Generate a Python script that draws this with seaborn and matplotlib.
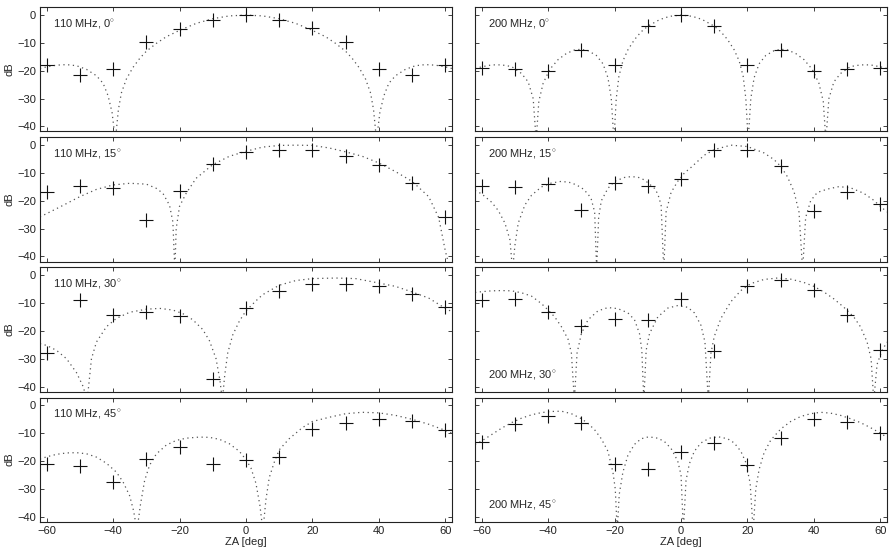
import matplotlib
matplotlib.use('Agg')
import matplotlib.pyplot as plt
import seaborn as sns

# measured points, every 10 deg of ZA
za_meas = [-60, -50, -40, -30, -20, -10, 0, 10, 20, 30, 40, 50, 60]

meas_110_0 = [-17.9, -21.7, -19.4, -9.8, -5.1, -1.8, 0, -1.8, -4.8, -9.5, -19.4, -21.7, -17.9]
meas_200_0 = [-19.0, -19.3, -20.2, -12.5, -18.0, -3.9, 0, -3.9, -18.0, -12.5, -20.2, -19.3, -19.0]
meas_110_15 = [-16.7, -14.5, -15.5, -27.0, -16.5, -6.7, -2.4, -1.6, -1.8, -3.8, -7.3, -13.5, -25.8]
meas_200_15 = [-14.5, -15.2, -14.0, -23.2, -13.7, -14.7, -12.2, -1.8, -1.8, -7.6, -23.6, -16.7, -21.0]
meas_110_30 = [-27.9, -8.8, -14.3, -13.1, -14.5, -37.3, -11.9, -5.8, -3.0, -3.0, -3.8, -6.7, -11.3]
meas_200_30 = [-8.8, -8.5, -13.1, -18.2, -15.8, -16.1, -8.5, -27.3, -3.8, -1.6, -5.2, -14.3, -27.0]
meas_110_45 = [-21.2, -21.9, -27.6, -19.4, -14.9, -21.0, -19.5, -18.5, -8.6, -6.4, -5.0, -5.6, -8.8]
meas_200_45 = [-13.1, -6.8, -4.0, -6.4, -21.0, -22.8, -16.7, -13.5, -21.3, -11.6, -4.8, -6.1, -10.0]

# model curves
model_110_0_za = [-62, -60, -57, -54, -51, -48, -45, -43, -41.5, -40.3, -39.3, -38.4, -37.5, -36,
                  -34, -32, -30, -27, -24, -20, -15, -10, -5, 0, 5, 10, 15, 20, 24, 27, 30, 32,
                  34, 36, 37.5, 38.4, 39.3, 40.3, 41.5, 43, 45, 48, 51, 54, 57, 60, 62]
model_110_0_db = [-19.2, -18.6, -18.0, -17.8, -18.2, -19.5, -21.8, -24.5, -29, -35, -45, -34, -28, -23,
                  -18.8, -15.6, -13.0, -10.2, -7.8, -5.5, -3.0, -1.3, -0.3, 0, -0.3, -1.3, -3.0, -5.5, -7.8, -10.2, -13.0, -15.6,
                  -18.8, -23, -28, -34, -45, -35, -29, -24.5, -21.8, -19.5, -18.2, -17.8, -18.0, -18.6, -19.2]

model_200_0_za = [-62, -60, -57, -54, -51, -48, -46, -44.5, -43.6, -42.8, -41.5, -39.5, -37, -34.5,
                  -32, -30, -28, -25.5, -23.5, -22, -21, -20.2, -19.5, -18.7, -17.5, -16, -14, -12,
                  -10, -7, -5, -3, 0, 3, 5, 7, 10, 12, 14, 16, 17.5, 18.7, 19.5, 20.2, 21, 22, 23.5,
                  25.5, 28, 30, 32, 34.5, 37, 39.5, 41.5, 42.8, 43.6, 44.5, 46, 48, 51, 54, 57, 60, 62]
model_200_0_db = [-19.2, -18.6, -17.9, -17.9, -18.5, -21, -24, -30, -45, -31, -24.5, -19.5, -16, -13.8,
                  -12.5, -12.3, -12.8, -14.5, -17.5, -22.5, -30, -45, -30, -22, -16.5, -12.5, -8.8, -6,
                  -4, -2, -1, -0.4, 0, -0.4, -1, -2, -4, -6, -8.8, -12.5, -16.5, -22, -30, -45, -30, -22.5, -17.5,
                  -14.5, -12.8, -12.3, -12.5, -13.8, -16, -19.5, -24.5, -31, -45, -30, -24, -21, -18.5, -17.9, -17.9, -18.6, -19.2]

model_110_15_za = [-62, -60, -55, -50, -45, -40, -35, -30, -27, -25, -23, -22, -21.4, -21, -20, -18,
                   -15, -10, -5, 0, 5, 10, 15, 20, 25, 30, 35, 40, 45, 50, 55, 58, 60, 61.5, 62]
model_110_15_db = [-25.8, -24.6, -21.6, -18.5, -15.9, -14.3, -13.7, -14.0, -15.5, -17.3, -21.6, -27.6, -45, -30, -22, -17.3,
                   -11.9, -7.0, -4.0, -2.2, -0.7, -0.1, 0, -0.1, -1.0, -2.4, -4.0, -6.4, -9.5, -13.0, -18.5, -26, -38, -45, -45]

model_200_15_za = [-62, -60, -57, -55, -53, -51.5, -50.7, -50, -49, -47, -45, -42, -39, -36, -33, -30,
                   -28, -27, -26, -25.4, -24.8, -24, -22, -20, -17, -15, -13, -11, -10, -8, -7, -6,
                   -5.2, -4.5, -3, -1, 0, 1, 3, 7, 10, 15, 20, 25, 28, 30, 32, 34, 35.5, 36.6, 37.5,
                   39, 41, 44, 47.5, 51, 55, 58, 60, 62]
model_200_15_db = [-16.3, -17.5, -20.5, -23.5, -28, -34, -45, -36, -28, -21.5, -18, -15, -13.6, -13, -13.5, -15.2,
                   -17.5, -19.5, -24, -45, -26, -20, -15.5, -13, -11.6, -11.3, -11.5, -12.5, -13.5, -15.5, -17.5, -21.5,
                   -45, -24, -17, -13, -11.6, -10, -8, -3.6, -1.6, 0, -0.5, -2.8, -5.2, -7.6, -11.3, -16.7, -24, -45, -26,
                   -20, -17, -15.8, -14.9, -15.3, -17.3, -19.8, -22, -24]

model_110_30_za = [-62, -60, -57, -54, -51, -49, -47.8, -46.5, -45, -42, -39, -35, -30, -26, -22, -19,
                   -16, -13, -11, -9, -7.8, -7.1, -6.4, -5.5, -4, -2, 0, 3, 5, 10, 15, 20, 27, 33,
                   40, 45, 50, 55, 60, 62]
model_110_30_db = [-24.6, -25.2, -27, -30, -35, -40, -45, -30, -24, -18.5, -15.5, -13.3, -12.2, -11.9, -12.5, -13.8,
                   -16, -19.5, -23.5, -30, -38, -45, -36, -28, -21.5, -16.5, -12.8, -9.2, -7, -3.6, -1.9, -1.2, -1, -1.2,
                   -2.8, -4, -6, -8.2, -11.9, -13.1]

model_200_30_za = [-62, -60, -57, -54, -51, -48, -45, -42, -40, -38, -36, -34, -33, -32.1, -31.3, -30,
                   -28, -25, -22, -19, -16, -14, -12.5, -11.8, -11.2, -10.5, -9.5, -7, -4, -1, 2, 4,
                   6, 7.2, 8.2, 9, 10, 12, 15, 18, 21, 25, 29, 33, 37, 40, 43, 46, 49, 52, 54, 56,
                   57.2, 58, 59, 60.5, 62]
model_200_30_db = [-6.2, -5.9, -5.6, -5.5, -5.6, -6.3, -7.5, -10.2, -12.5, -15, -18.5, -23, -28, -45, -28, -21,
                   -16, -12.8, -11.6, -12, -13.5, -16, -21, -27, -45, -27, -21, -15, -11.8, -10.9, -11.5, -13.5,
                   -18, -24, -45, -28, -22, -15.5, -9.5, -5.5, -3, -1.5, -1, -1.4, -2.6, -4, -6, -8.5, -11.5, -15, -18.5, -24,
                   -30, -45, -32, -27, -24]

model_110_45_za = [-62, -60, -57, -54, -51, -48, -45, -42, -39, -37, -35, -33.8, -32.8, -31.8, -30.5, -29,
                   -27, -24, -21, -18, -14, -11, -8, -5, -2, 0, 1.5, 3, 4.2, 5.1, 6, 7, 8.5, 10, 13,
                   17, 20, 25, 30, 35, 40, 45, 50, 55, 60, 62]
model_110_45_db = [-19.3, -18.5, -17.6, -17.1, -17, -17.4, -18.6, -20.8, -24, -27.5, -32.5, -38, -45, -36, -27, -21.5,
                   -17.5, -14.3, -12.6, -11.8, -11.4, -11.5, -12.2, -13.8, -16.5, -19.5, -22.5, -28, -36, -45, -34, -26, -20.5, -16, -12,
                   -8, -5.8, -4.3, -3, -2.5, -2.7, -3.6, -5, -6.8, -9, -10]

model_200_45_za = [-62, -60, -57, -54, -51, -48, -45, -42, -39, -36, -33, -30, -28, -26, -24, -22,
                   -20.5, -19.8, -19.2, -18.6, -17.5, -16, -14, -12, -9.7, -7, -5, -3, -1, 0, 0.7,
                   1.5, 2.5, 4, 6, 8.5, 11.2, 14, 16, 18, 19.5, 20.8, 21.7, 22.5, 23.5, 25, 27, 30,
                   33, 36, 39, 42, 45, 48, 51, 54, 57, 60, 62]
model_200_45_db = [-14, -12.8, -10.5, -8.2, -6.2, -4.6, -3.4, -2.6, -2.2, -2.1, -3, -4.8, -6.5, -8.8, -12, -16.5,
                   -24, -30, -45, -32, -24, -18, -14, -12, -11.3, -11.8, -13, -15.5, -20, -25, -45,
                   -27, -21, -16.5, -13.5, -11.8, -11.3, -12, -13.5, -16.5, -20.5, -28, -45, -30, -23, -17, -12.5, -8.5,
                   -5.8, -4, -3, -2.5, -2.8, -3.6, -4.8, -6.2, -8, -10, -11.5]

labels = [r'110 MHz, 0$^{\circ}$', r'200 MHz, 0$^{\circ}$',
          r'110 MHz, 15$^{\circ}$', r'200 MHz, 15$^{\circ}$',
          r'110 MHz, 30$^{\circ}$', r'200 MHz, 30$^{\circ}$',
          r'110 MHz, 45$^{\circ}$', r'200 MHz, 45$^{\circ}$']

panels = [
    (model_110_0_za, model_110_0_db, meas_110_0),
    (model_200_0_za, model_200_0_db, meas_200_0),
    (model_110_15_za, model_110_15_db, meas_110_15),
    (model_200_15_za, model_200_15_db, meas_200_15),
    (model_110_30_za, model_110_30_db, meas_110_30),
    (model_200_30_za, model_200_30_db, meas_200_30),
    (model_110_45_za, model_110_45_db, meas_110_45),
    (model_200_45_za, model_200_45_db, meas_200_45),
]

sns.set_style('ticks')
plt.rcParams['font.family'] = ['Liberation Sans', 'DejaVu Sans']
plt.rcParams['mathtext.fontset'] = 'custom'
plt.rcParams['mathtext.rm'] = 'Liberation Sans'
plt.rcParams['xtick.direction'] = 'in'
plt.rcParams['ytick.direction'] = 'in'
plt.rcParams['xtick.top'] = True
plt.rcParams['ytick.right'] = True
plt.rcParams['font.size'] = 8

fig, axes = plt.subplots(4, 2, figsize=(8.96, 5.51), dpi=100)
fig.subplots_adjust(left=0.0446, right=0.99, bottom=0.0532, top=0.9868,
                    wspace=0.056, hspace=0.048)

for i, ax in enumerate(axes.flat):
    za, db, meas = panels[i]
    sns.lineplot(x=za, y=db, ax=ax, color='#555555', linestyle=(0, (1, 2.8)), linewidth=0.9,
                 estimator=None, sort=False)
    sns.scatterplot(x=za_meas, y=meas, ax=ax, marker='+', s=110, color='#111111',
                    linewidth=0.8, zorder=3)
    ax.set_xlim(-62, 62)
    ax.set_ylim(-41.8, 2.8)
    ax.set_xticks([-60, -40, -20, 0, 20, 40, 60])
    ax.set_yticks([-40, -30, -20, -10, 0])
    ax.tick_params(length=3, width=0.6, labelsize=8, pad=3, colors='#222222')
    for sp in ax.spines.values():
        sp.set_linewidth(0.8)
        sp.set_color('#222222')
    row, col = divmod(i, 2)
    if col == 0:
        ax.set_ylabel('dB', fontsize=8, labelpad=2)
    else:
        ax.set_yticklabels([])
        ax.set_ylabel('')
    if row == 3:
        ax.set_xlabel('ZA [deg]', fontsize=8, labelpad=1)
    else:
        ax.set_xticklabels([])
        ax.set_xlabel('')
    if col == 1 and row >= 2:
        ax.text(0.031, 0.14, labels[i], transform=ax.transAxes, fontsize=8, va='center')
    else:
        ax.text(0.031, 0.87, labels[i], transform=ax.transAxes, fontsize=8, va='center')

plt.savefig('out.png', dpi=100)
plt.close()
